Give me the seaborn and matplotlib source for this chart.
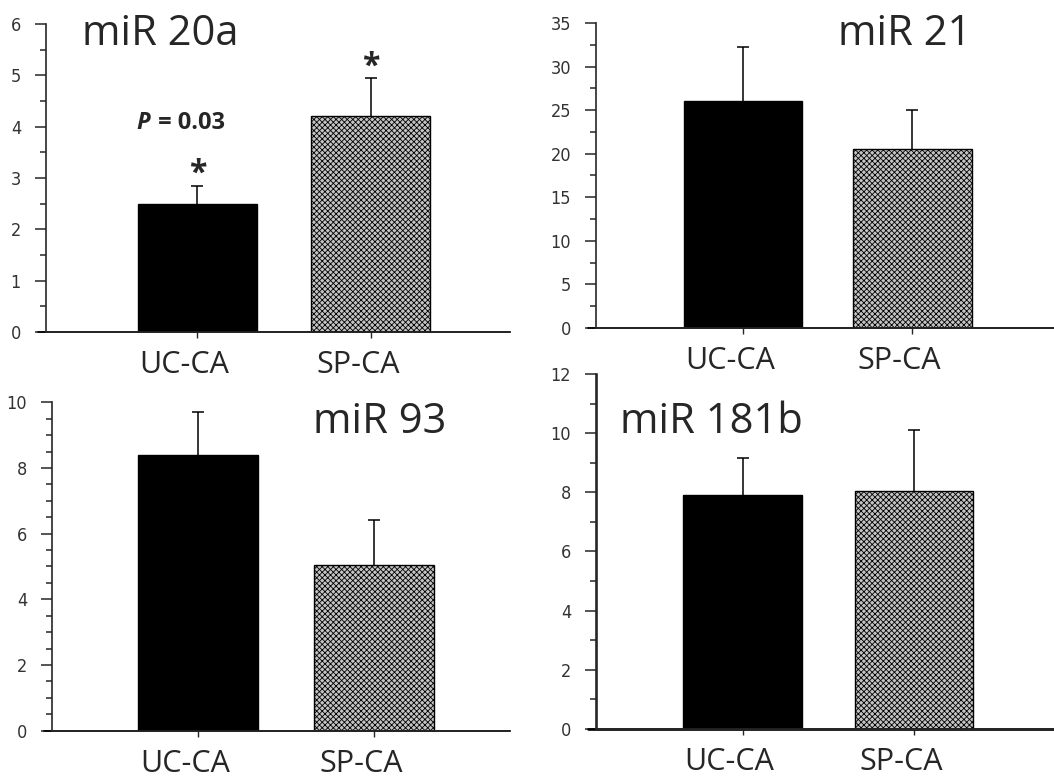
import numpy as np
import pandas as pd
import matplotlib
matplotlib.use("Agg")
import matplotlib.pyplot as plt
import matplotlib.transforms as mtransforms
from matplotlib.ticker import MultipleLocator
import seaborn as sns

groups = ["UC-CA", "SP-CA"]

mir20a_mean = [2.5, 4.2]
mir20a_err = [0.35, 0.75]
mir21_mean = [26.1, 20.5]
mir21_err = [6.2, 4.5]
mir93_mean = [8.4, 5.05]
mir93_err = [1.3, 1.37]
mir181b_mean = [7.9, 8.03]
mir181b_err = [1.27, 2.08]

sns.set_style("ticks")
plt.rcParams["font.family"] = ["Open Sans", "DejaVu Sans"]
plt.rcParams["hatch.linewidth"] = 0.6

tick_font = ["Liberation Sans Narrow", "DejaVu Sans"]

fig = plt.figure(figsize=(10.54, 7.77), dpi=100)
# category labels sit a little left of the bar centres in the original
label_shift = mtransforms.ScaledTranslation(-0.13, 0, fig.dpi_scale_trans)

# axes rects in figure fractions
panels = [
    # name, means, errs, rect, ylim, major, minor, xlim, bar width, title pos, spine width
    ("miR 20a", mir20a_mean, mir20a_err, [0.0436, 0.5727, 0.440, 0.3964], 6, 1, 0.5, (-0.873, 1.80), 0.686, (0.078, 0.932), 1.2),
    ("miR 21", mir21_mean, mir21_err, [0.5655, 0.5779, 0.4345, 0.3925], 35, 5, 2.5, (-0.867, 1.835), 0.70, (0.528, 0.928), 1.2),
    ("miR 93", mir93_mean, mir93_err, [0.0493, 0.0596, 0.4345, 0.4227], 10, 2, 0.5, (-0.83, 1.773), 0.68, (0.570, 0.9065), 1.2),
    ("miR 181b", mir181b_mean, mir181b_err, [0.5655, 0.0618, 0.4345, 0.4569], 12, 2, 1, (-0.854, 1.816), 0.69, (0.052, 0.834), 1.9),
]

axes = []
for name, means, errs, rect, ytop, major, minor, xlim, bw, tpos, sw in panels:
    ax = fig.add_axes(rect)
    df = pd.DataFrame({"group": groups, "value": means})
    sns.barplot(data=df, x="group", y="value", hue="group", order=groups,
                palette=["black", "#c4c4c4"], width=bw, legend=False,
                edgecolor="black", linewidth=1.0, ax=ax)
    ax.patches[1].set_hatch("xxxxxx")
    _, caps, _ = ax.errorbar(range(len(groups)), means,
                             yerr=[np.zeros(len(errs)), errs],
                             fmt="none", ecolor="black", elinewidth=1.1,
                             capsize=4, capthick=1.1, zorder=0)
    # only the upper half of the error bar is drawn
    for cap in caps:
        if np.allclose(cap.get_ydata(), means):
            cap.set_visible(False)
    ax.set_xlim(*xlim)
    ax.set_ylim(0, ytop)
    ax.yaxis.set_major_locator(MultipleLocator(major))
    ax.yaxis.set_minor_locator(MultipleLocator(minor))
    ax.set_xlabel("")
    ax.set_ylabel("")
    sns.despine(ax=ax)
    ax.spines["left"].set_linewidth(sw)
    ax.spines["bottom"].set_linewidth(sw)
    ax.axhline(0, xmin=-0.018, xmax=1, color="black", lw=sw, clip_on=False)
    ax.tick_params(axis="y", which="major", length=8, width=1.1, pad=10,
                   labelsize=13, labelcolor="#333333")
    ax.tick_params(axis="y", which="minor", length=4.5, width=1.1)
    ax.tick_params(axis="x", length=4, width=1, pad=9, labelsize=22)
    for lab in ax.get_yticklabels():
        lab.set_family(tick_font)
        lab.set_fontstretch("condensed")
    for lab in ax.get_xticklabels():
        lab.set_transform(lab.get_transform() + label_shift)
    ax.text(tpos[0], tpos[1], name, transform=ax.transAxes, ha="left",
            va="baseline", fontsize=30)
    axes.append(ax)

ax0 = axes[0]
ax0.text(-0.27, 4.07, "P", ha="right", va="center", fontsize=17,
         fontweight="bold", fontstyle="italic")
ax0.text(-0.26, 4.07, " = 0.03", ha="left", va="center", fontsize=17,
         fontweight="bold")
ax0.text(0, 3.08, "*", ha="center", va="center", fontsize=23, fontweight="bold")
ax0.text(1, 5.15, "*", ha="center", va="center", fontsize=23, fontweight="bold")

fig.savefig("out.png", dpi=100)
